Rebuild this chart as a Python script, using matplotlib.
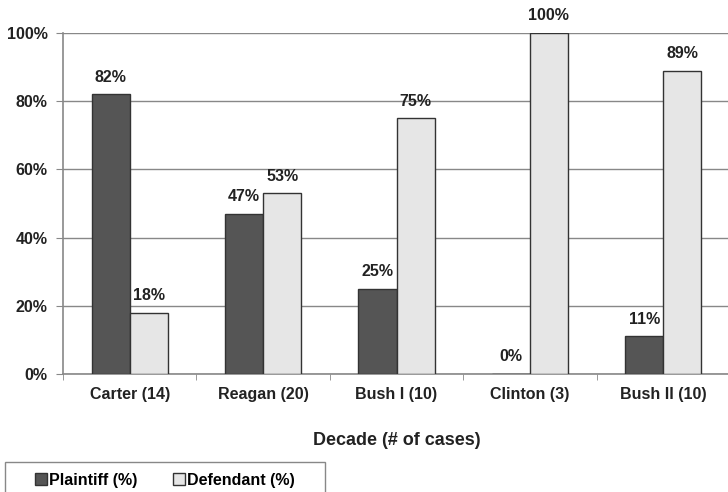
import matplotlib.pyplot as plt
import numpy as np
from matplotlib.ticker import FixedLocator
from matplotlib.patches import Rectangle

plt.rcParams['font.family'] = ['Liberation Sans', 'DejaVu Sans']
plt.rcParams['font.weight'] = 'bold'

# resultados por administracion
categorias = ['Carter (14)', 'Reagan (20)', 'Bush I (10)', 'Clinton (3)', 'Bush II (10)']
plaintiff = [82, 47, 25, 0, 11]
defendant = [18, 53, 75, 100, 89]

fig = plt.figure(figsize=(7.28, 4.92), dpi=100)
ax = fig.add_axes([63/728, 1-374/492, 667/728, 341/492])

x = np.arange(len(categorias))
w = 0.285
b1 = ax.bar(x - w/2, plaintiff, w, color='#555555', edgecolor='#333333', linewidth=1, zorder=3,
            label='Plaintiff (%)')
b2 = ax.bar(x + w/2, defendant, w, color='#e6e6e6', edgecolor='#333333', linewidth=1, zorder=3,
            label='Defendant (%)')

# etiquetas de valor sobre cada barra
for barras, vals in [(b1, plaintiff), (b2, defendant)]:
    for b, v in zip(barras, vals):
        ax.annotate(f'{v}%', (b.get_x() + b.get_width()/2, v), xytext=(0, 7),
                    textcoords='offset points', ha='center', va='bottom',
                    fontsize=11.5, fontweight='bold', color='#222222')

ax.set_xlim(-0.5, len(categorias) - 0.5)
ax.set_ylim(0, 100)
ax.set_yticks(range(0, 101, 20))
ax.set_yticklabels([f'{t}%' for t in range(0, 101, 20)])
ax.set_xticks(x)
ax.set_xticklabels(categorias)
ax.xaxis.set_minor_locator(FixedLocator(np.arange(-0.5, len(categorias), 1)))
ax.tick_params(axis='x', which='major', length=0, pad=9, labelsize=11.5, labelcolor='#222222')
ax.tick_params(axis='x', which='minor', length=4, color='#888888')
ax.tick_params(axis='y', length=5, color='#888888', labelsize=11.5, labelcolor='#222222', pad=6)
ax.grid(axis='y', color='#888888', linewidth=1, zorder=0)
for s in ['top', 'right']:
    ax.spines[s].set_visible(False)
for s in ['left', 'bottom']:
    ax.spines[s].set_color('#888888')
    ax.spines[s].set_linewidth(1.2)

ax.set_xlabel('Decade (# of cases)', fontsize=13, fontweight='bold', labelpad=22, color='#222222')

# caja de la leyenda (se corta en el borde inferior)
fig.patches.append(Rectangle((5/728, -0.05), 320/728, 1-462/492 + 0.05, transform=fig.transFigure,
                             facecolor='white', edgecolor='#888888', linewidth=1))
fig.legend(loc='center', bbox_to_anchor=(165/728, 1-480/492), ncol=2, frameon=False,
           prop={'size': 11.5, 'weight': 'bold'}, handlelength=0.75, handleheight=0.75,
           handletextpad=0.15, columnspacing=2.2)

fig.savefig('out.png', dpi=100)
